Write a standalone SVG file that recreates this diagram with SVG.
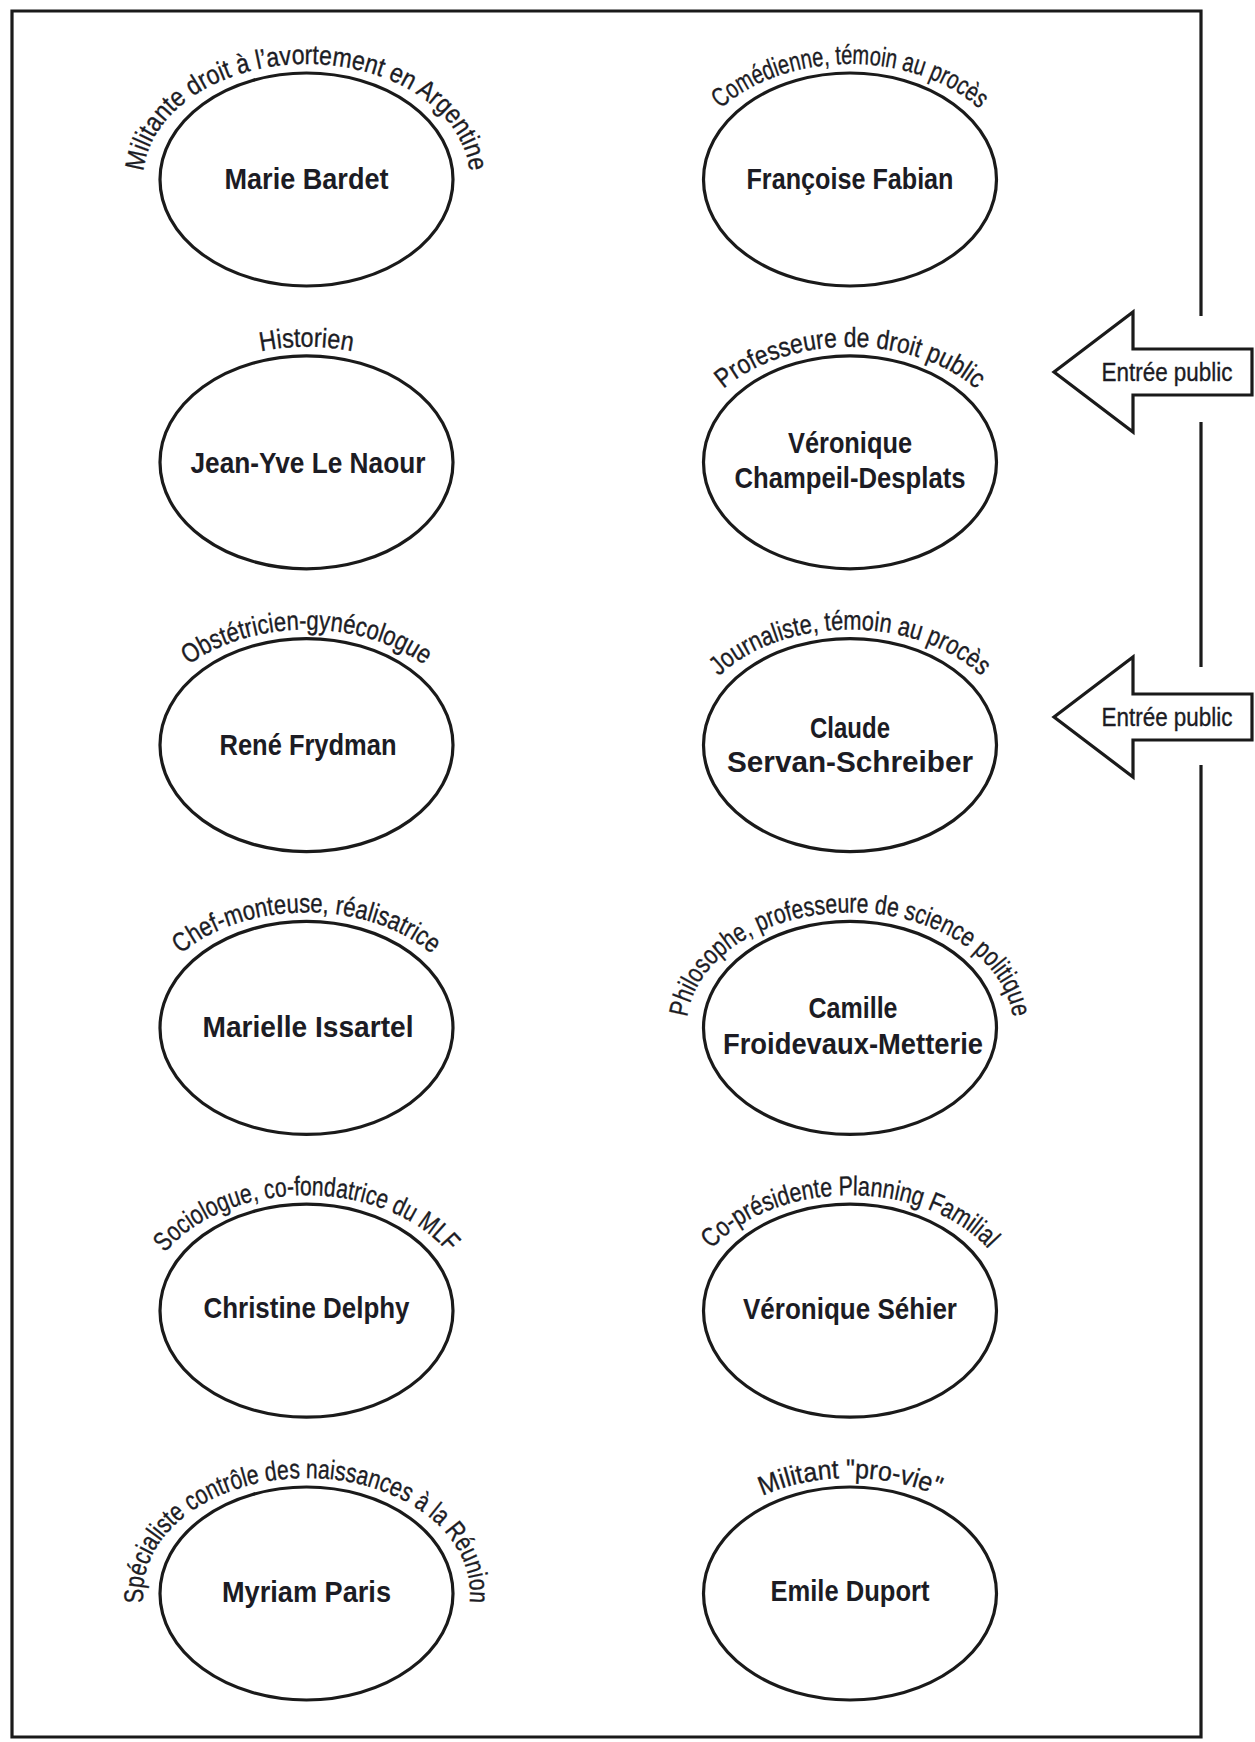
<svg xmlns="http://www.w3.org/2000/svg" width="1255" height="1742" viewBox="0 0 1255 1742">
<style>
.frame{fill:none;stroke:#1a1a1a;stroke-width:3.2}
.node ellipse{fill:#fff;stroke:#1a1a1a;stroke-width:3.2}
.name{font-family:"Liberation Sans",Arial,sans-serif;font-weight:bold;font-size:30px;fill:#1c1c24;text-anchor:middle}
.lbl{font-family:"Liberation Sans",Arial,sans-serif;font-size:27px;fill:#1c1c24;stroke:#1c1c24;stroke-width:0.35;text-anchor:middle}
.arrow{fill:#fff;stroke:#1a1a1a;stroke-width:3.2;stroke-linejoin:miter}
.atxt{font-family:"Liberation Sans",Arial,sans-serif;font-size:25px;fill:#1c1c24;stroke:#1c1c24;stroke-width:0.35;text-anchor:middle}
</style>
<defs>
<path id="p1" d="M306.5,295 A163.5,115.5 0 0 1 306.5,64 A163.5,115.5 0 0 1 306.5,295"/>
<path id="p2" d="M850,295 A163.5,115.5 0 0 1 850,64 A163.5,115.5 0 0 1 850,295"/>
<path id="p3" d="M306.5,577.8 A163.5,115.5 0 0 1 306.5,346.8 A163.5,115.5 0 0 1 306.5,577.8"/>
<path id="p4" d="M850,577.8 A163.5,115.5 0 0 1 850,346.8 A163.5,115.5 0 0 1 850,577.8"/>
<path id="p5" d="M306.5,860.6 A163.5,115.5 0 0 1 306.5,629.6 A163.5,115.5 0 0 1 306.5,860.6"/>
<path id="p6" d="M850,860.6 A163.5,115.5 0 0 1 850,629.6 A163.5,115.5 0 0 1 850,860.6"/>
<path id="p7" d="M306.5,1143.4 A163.5,115.5 0 0 1 306.5,912.4 A163.5,115.5 0 0 1 306.5,1143.4"/>
<path id="p8" d="M850,1143.4 A163.5,115.5 0 0 1 850,912.4 A163.5,115.5 0 0 1 850,1143.4"/>
<path id="p9" d="M306.5,1426.2 A163.5,115.5 0 0 1 306.5,1195.2 A163.5,115.5 0 0 1 306.5,1426.2"/>
<path id="p10" d="M850,1426.2 A163.5,115.5 0 0 1 850,1195.2 A163.5,115.5 0 0 1 850,1426.2"/>
<path id="p11" d="M306.5,1709 A163.5,115.5 0 0 1 306.5,1478 A163.5,115.5 0 0 1 306.5,1709"/>
<path id="p12" d="M850,1709 A163.5,115.5 0 0 1 850,1478 A163.5,115.5 0 0 1 850,1709"/>
</defs>

<g id="frame">
<path class="frame" d="M1201,316 L1201,11 L12,11 L12,1737 L1201,1737 L1201,765 M1201,422 L1201,667"/>
</g>

<g id="connectors">
<g id="entree1">
<polygon class="arrow" points="1054,372 1133,312 1133,349 1252,349 1252,395 1133,395 1133,432"/>
<text class="atxt" x="1167" y="381" textLength="131" lengthAdjust="spacingAndGlyphs">Entrée public</text>
</g>
<g id="entree2">
<polygon class="arrow" points="1054,717 1133,657 1133,694 1252,694 1252,740 1133,740 1133,777"/>
<text class="atxt" x="1167" y="726" textLength="131" lengthAdjust="spacingAndGlyphs">Entrée public</text>
</g>
</g>

<g id="n-bardet" class="node">
<ellipse cx="306.5" cy="179.5" rx="146.5" ry="106.5"/>
<text class="lbl"><textPath href="#p1" startOffset="50%" textLength="425" lengthAdjust="spacingAndGlyphs">Militante droit à l’avortement en Argentine</textPath></text>
<text class="name" x="306.5" y="189" textLength="164" lengthAdjust="spacingAndGlyphs">Marie Bardet</text>
</g>
<g id="n-fabian" class="node">
<ellipse cx="850" cy="179.5" rx="146.5" ry="106.5"/>
<text class="lbl"><textPath href="#p2" startOffset="50%" textLength="280" lengthAdjust="spacingAndGlyphs">Comédienne, témoin au procès</textPath></text>
<text class="name" x="850" y="189" textLength="207" lengthAdjust="spacingAndGlyphs">Françoise Fabian</text>
</g>
<g id="n-lenaour" class="node">
<ellipse cx="306.5" cy="462.3" rx="146.5" ry="106.5"/>
<text class="lbl"><textPath href="#p3" startOffset="50%" textLength="92" lengthAdjust="spacingAndGlyphs">Historien</textPath></text>
<text class="name" x="308" y="473" textLength="235" lengthAdjust="spacingAndGlyphs">Jean-Yve Le Naour</text>
</g>
<g id="n-champeil" class="node">
<ellipse cx="850" cy="462.3" rx="146.5" ry="106.5"/>
<text class="lbl"><textPath href="#p4" startOffset="50%" textLength="272" lengthAdjust="spacingAndGlyphs">Professeure de droit public</textPath></text>
<text class="name" x="850" y="453" textLength="124" lengthAdjust="spacingAndGlyphs">Véronique</text>
<text class="name" x="850" y="488" textLength="231" lengthAdjust="spacingAndGlyphs">Champeil-Desplats</text>
</g>
<g id="n-frydman" class="node">
<ellipse cx="306.5" cy="745.1" rx="146.5" ry="106.5"/>
<text class="lbl"><textPath href="#p5" startOffset="50%" textLength="250" lengthAdjust="spacingAndGlyphs">Obstétricien-gynécologue</textPath></text>
<text class="name" x="308" y="755" textLength="177" lengthAdjust="spacingAndGlyphs">René Frydman</text>
</g>
<g id="n-servan" class="node">
<ellipse cx="850" cy="745.1" rx="146.5" ry="106.5"/>
<text class="lbl"><textPath href="#p6" startOffset="50%" textLength="285" lengthAdjust="spacingAndGlyphs">Journaliste, témoin au procès</textPath></text>
<text class="name" x="850" y="738" textLength="80" lengthAdjust="spacingAndGlyphs">Claude</text>
<text class="name" x="850" y="772" textLength="246" lengthAdjust="spacingAndGlyphs">Servan-Schreiber</text>
</g>
<g id="n-issartel" class="node">
<ellipse cx="306.5" cy="1027.9" rx="146.5" ry="106.5"/>
<text class="lbl"><textPath href="#p7" startOffset="50%" textLength="270" lengthAdjust="spacingAndGlyphs">Chef-monteuse, réalisatrice</textPath></text>
<text class="name" x="308" y="1037" textLength="211" lengthAdjust="spacingAndGlyphs">Marielle Issartel</text>
</g>
<g id="n-froidevaux" class="node">
<ellipse cx="850" cy="1027.9" rx="146.5" ry="106.5"/>
<text class="lbl"><textPath href="#p8" startOffset="50%" textLength="420" lengthAdjust="spacingAndGlyphs">Philosophe, professeure de science politique</textPath></text>
<text class="name" x="853" y="1018" textLength="89" lengthAdjust="spacingAndGlyphs">Camille</text>
<text class="name" x="853" y="1054" textLength="260" lengthAdjust="spacingAndGlyphs">Froidevaux-Metterie</text>
</g>
<g id="n-delphy" class="node">
<ellipse cx="306.5" cy="1310.7" rx="146.5" ry="106.5"/>
<text class="lbl"><textPath href="#p9" startOffset="50%" textLength="315" lengthAdjust="spacingAndGlyphs">Sociologue, co-fondatrice du MLF</textPath></text>
<text class="name" x="306.5" y="1318" textLength="206" lengthAdjust="spacingAndGlyphs">Christine Delphy</text>
</g>
<g id="n-sehier" class="node">
<ellipse cx="850" cy="1310.7" rx="146.5" ry="106.5"/>
<text class="lbl"><textPath href="#p10" startOffset="50%" textLength="305" lengthAdjust="spacingAndGlyphs">Co-présidente Planning Familial</textPath></text>
<text class="name" x="850" y="1319" textLength="214" lengthAdjust="spacingAndGlyphs">Véronique Séhier</text>
</g>
<g id="n-paris" class="node">
<ellipse cx="306.5" cy="1593.5" rx="146.5" ry="106.5"/>
<text class="lbl"><textPath href="#p11" startOffset="50%" textLength="460" lengthAdjust="spacingAndGlyphs">Spécialiste contrôle des naissances à la Réunion</textPath></text>
<text class="name" x="306.5" y="1602" textLength="169" lengthAdjust="spacingAndGlyphs">Myriam Paris</text>
</g>
<g id="n-duport" class="node">
<ellipse cx="850" cy="1593.5" rx="146.5" ry="106.5"/>
<text class="lbl"><textPath href="#p12" startOffset="50%" textLength="180" lengthAdjust="spacingAndGlyphs">Militant "pro-vie"</textPath></text>
<text class="name" x="850" y="1601" textLength="159" lengthAdjust="spacingAndGlyphs">Emile Duport</text>
</g>
</svg>
